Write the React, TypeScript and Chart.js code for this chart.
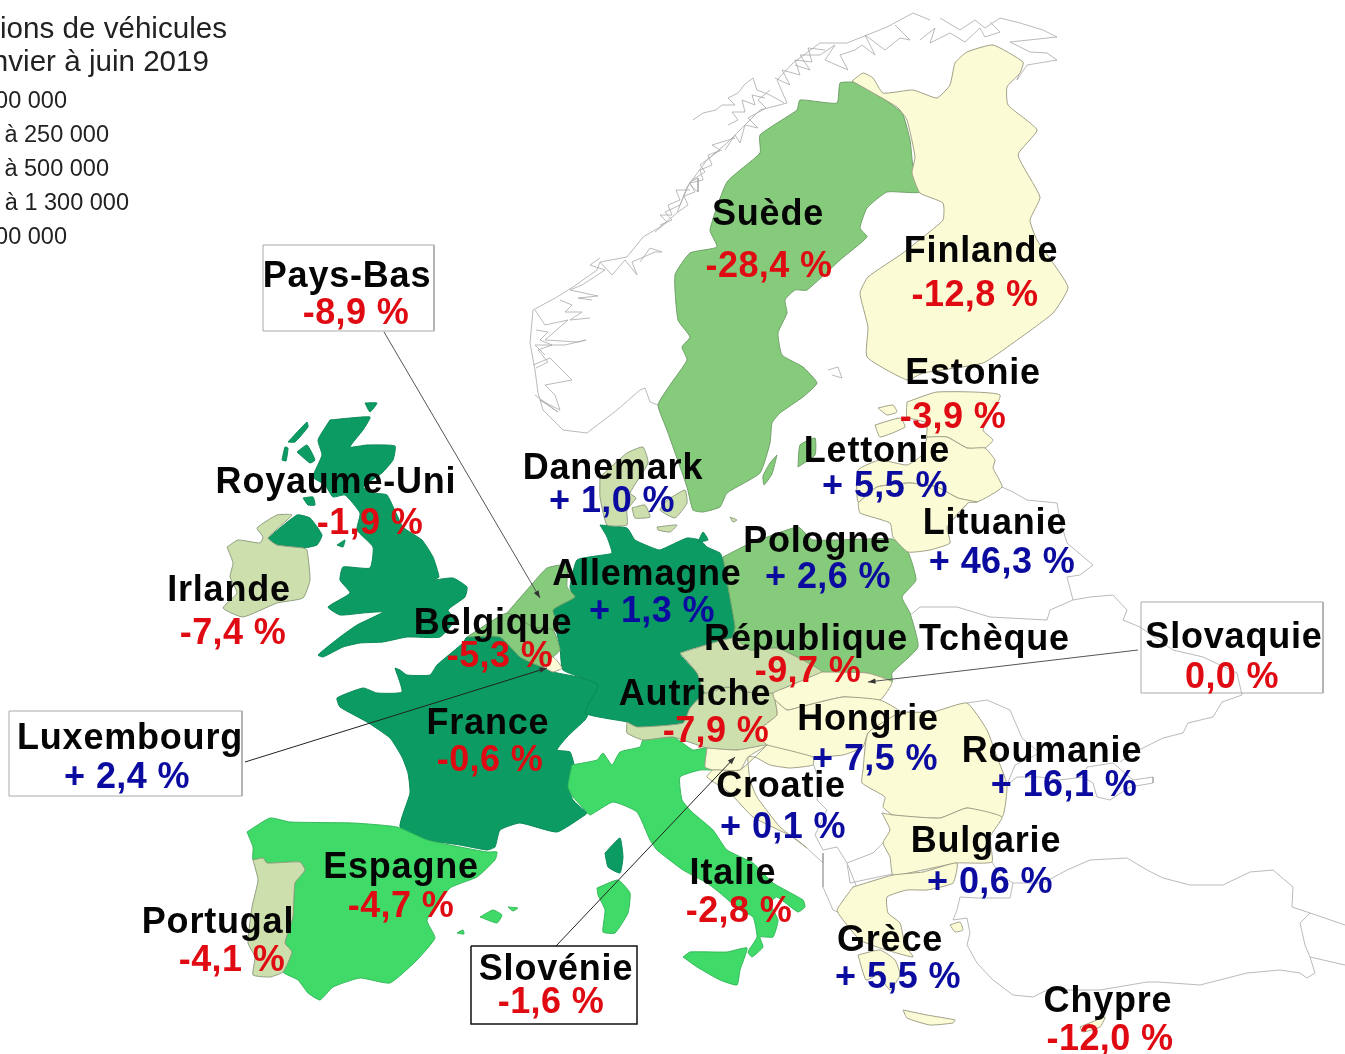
import React, { useEffect, useRef } from "react";
import { Chart, registerables } from "chart.js";
Chart.register(...registerables);

type P = number[];

// Category colours of the map
const DARK = "#0B9B63";
const BRIGHT = "#3FDA68";
const MID = "#86CB7C";
const PALE = "#CEDFAE";
const CREAM = "#FBFBD6";

// Labels
const names = ["Suède","Finlande","Estonie","Lettonie","Danemark","Lituanie","Pologne","Royaume-Uni","Irlande","Pays-Bas","Allemagne","Belgique","République Tchèque","Slovaquie","Autriche","Hongrie","France","Luxembourg","Roumanie","Croatie","Bulgarie","Espagne","Italie","Portugal","Grèce","Slovénie","Chypre"];
const changes = [-28.4,-12.8,-3.9,5.5,1.0,46.3,2.6,-1.9,-7.4,-8.9,1.3,-5.3,-9.7,0.0,-7.9,7.5,-0.6,2.4,16.1,0.1,0.6,-4.7,-2.8,-4.1,5.5,-1.6,-12.0];
const nameX = [768,981,973,877,613,995,817,336,229,347,647,493,887,1234,695,868,488,130,1052,781,986,401,733,218,890,556,1108];
const nameY = [225,262,384,462,479,534,552,493,601,287,585,634,650,648,705,730,734,749,762,797,852,878,884,933,951,980,1012];
const valueX = [769,975,953,885,612,1002,828,370,233,356,652,500,808,1232,716,875,490,127,1064,783,990,401,739,232,898,551,1110];
const valueY = [277,306,428,497,512,573,588,534,644,324,622,667,682,688,742,770,771,788,796,838,893,917,922,971,988,1013,1050];

const legendLines = ["ions de véhicules","nvier à juin 2019","00 000","à 250 000","à 500 000","à 1 300 000","00 000"];
const legendRight = [227,209,67,109,109,129,67];
const legendBase = [38,71,108,142,176,210,244];
const legendSize = [29.6,29.6,23.5,23.5,23.5,23.5,23.5];

// Country outlines, in map units
const greatBritain: P[] = [[330,420],[370,417],[363,430],[350,447],[367,445],[395,446],[393,460],[382,473],[363,487],[373,493],[387,495],[403,527],[422,540],[433,557],[439,577],[433,580],[453,578],[467,587],[465,597],[448,610],[455,620],[440,637],[407,637],[383,642],[360,643],[343,647],[323,657],[318,655],[340,637],[357,625],[383,612],[363,613],[340,615],[328,607],[350,593],[340,580],[343,567],[370,568],[373,547],[357,530],[360,513],[345,495],[333,497],[325,485],[313,477],[322,455],[318,440]];
const nIreland: P[] = [[268,538],[297,515],[310,518],[322,535],[317,545],[303,548],[277,545]];
const hebrides: P[] = [[288,442],[307,422],[308,427],[295,442]];
const skye: P[] = [[297,452],[307,445],[315,460],[310,463]];
const uist: P[] = [[282,460],[285,447],[288,448],[286,461]];
const orkney: P[] = [[365,403],[377,403],[370,412]];
const anglesey: P[] = [[337,545],[345,540],[343,547]];
const islay: P[] = [[303,498],[313,497],[315,505],[308,505]];
const ireland: P[] = [[227,547],[238,540],[260,543],[263,537],[257,528],[277,515],[292,515],[268,538],[277,545],[303,548],[307,550],[310,580],[303,598],[277,603],[243,617],[223,608],[237,593],[230,577],[233,563]];
const france: P[] = [[395,668],[400,670],[407,675],[430,675],[437,665],[463,643],[467,637],[500,637],[520,657],[543,667],[553,672],[598,683],[587,717],[585,720],[567,737],[557,750],[570,752],[575,770],[568,785],[573,800],[587,813],[585,815],[557,832],[520,823],[500,830],[495,847],[487,850],[460,845],[427,840],[400,827],[410,793],[408,773],[402,757],[390,738],[367,722],[340,707],[337,698],[363,688],[377,693],[402,692]];
const corsica: P[] = [[605,853],[620,838],[623,857],[620,873],[608,867]];
const spain: P[] = [[247,832],[270,818],[290,822],[353,823],[397,827],[427,840],[460,847],[487,852],[497,852],[495,860],[477,877],[450,888],[427,920],[435,938],[417,960],[390,983],[360,978],[333,987],[320,1000],[308,993],[298,980],[283,972],[292,952],[285,943],[293,917],[295,883],[305,870],[300,862],[267,863],[263,858],[253,860],[253,847]];
const portugal: P[] = [[253,860],[263,858],[267,863],[300,862],[305,870],[295,883],[293,917],[285,943],[292,952],[283,972],[270,977],[253,975],[255,957],[248,943],[252,907],[258,880]];
const mallorca: P[] = [[480,917],[493,910],[502,915],[497,923]];
const menorca: P[] = [[508,907],[518,908],[513,911]];
const ibiza: P[] = [[457,933],[463,930],[464,934]];
const italy: P[] = [[572,765],[597,760],[603,753],[612,765],[620,752],[640,747],[643,740],[673,737],[693,750],[707,748],[705,767],[713,770],[700,770],[680,777],[682,800],[692,812],[713,830],[727,850],[753,863],[773,883],[803,900],[805,907],[798,912],[777,897],[770,903],[778,920],[773,937],[760,937],[763,947],[752,957],[748,952],[757,937],[753,917],[740,910],[720,893],[707,883],[683,870],[657,850],[650,840],[637,812],[613,802],[590,815],[585,810],[573,797],[568,787]];
const sicily: P[] = [[683,957],[690,952],[727,952],[747,948],[740,970],[737,985],[720,980],[697,967]];
const sardinia: P[] = [[597,888],[618,880],[630,893],[628,913],[615,933],[603,932],[605,910],[598,895]];
const germany: P[] = [[600,525],[627,528],[635,540],[653,548],[660,550],[687,538],[700,540],[707,547],[720,553],[723,560],[728,587],[735,627],[733,637],[680,653],[697,673],[705,693],[690,708],[683,723],[637,727],[627,722],[585,713],[598,685],[563,670],[560,647],[553,610],[573,597],[570,587],[577,560],[603,555],[612,553],[607,537]];
const rugen: P[] = [[698,542],[703,532],[708,540]];
const jutland: P[] = [[600,477],[627,453],[643,447],[648,463],[630,493],[636,498],[627,510],[627,525],[607,525],[600,497]];
const funen: P[] = [[632,508],[645,505],[650,517],[635,518]];
const zealand: P[] = [[667,500],[685,490],[687,503],[675,518],[660,510]];
const lolland: P[] = [[657,527],[677,525],[670,532],[658,530]];
const bornholm: P[] = [[730,517],[737,520],[733,522]];
const sweden: P[] = [[853,82],[873,92],[902,113],[910,140],[913,167],[920,192],[887,192],[867,208],[860,228],[867,237],[840,260],[807,290],[795,290],[785,300],[787,313],[778,333],[782,355],[803,367],[817,383],[803,397],[780,413],[772,423],[770,443],[760,473],[727,493],[720,507],[703,512],[693,510],[687,487],[667,430],[658,405],[670,385],[687,360],[682,347],[690,337],[678,320],[675,275],[690,253],[717,247],[710,230],[727,182],[760,153],[760,135],[797,110],[800,100],[837,103],[840,83]];
const oland: P[] = [[777,455],[772,474],[764,485],[763,476],[770,463]];
const gotland: P[] = [[798,467],[800,445],[815,438],[815,455]];
const finland: P[] = [[852,81],[863,73],[873,78],[883,93],[913,90],[937,98],[950,85],[955,63],[967,52],[993,45],[1023,62],[1020,73],[1007,87],[1008,105],[1037,130],[1018,155],[1040,197],[1030,220],[1037,240],[1068,287],[1053,313],[1013,343],[983,363],[923,373],[907,380],[867,357],[868,327],[860,293],[868,277],[903,253],[923,237],[943,220],[943,203],[920,193],[912,173],[915,157],[907,120],[897,107]];
const estonia: P[] = [[907,402],[937,392],[1000,395],[983,430],[993,440],[985,448],[967,448],[947,437],[927,437],[927,423],[907,417]];
const saaremaa: P[] = [[875,425],[900,418],[905,427],[880,437]];
const hiiumaa: P[] = [[878,408],[893,405],[897,412],[887,415]];
const latvia: P[] = [[927,437],[947,437],[967,448],[985,448],[995,460],[993,468],[1002,487],[977,502],[958,498],[937,487],[910,483],[877,487],[858,502],[858,470],[880,460],[907,465],[922,455]];
const lithuania: P[] = [[858,503],[860,513],[890,523],[893,537],[908,552],[930,550],[950,543],[947,527],[968,503],[977,502],[958,498],[937,487],[910,483],[877,487]];
const poland: P[] = [[723,557],[747,545],[798,527],[813,540],[892,539],[908,552],[916,580],[902,597],[910,613],[918,647],[892,673],[892,682],[867,673],[822,672],[797,657],[777,648],[750,650],[733,638],[735,627],[728,587]];
const czechia: P[] = [[680,653],[733,638],[750,650],[777,648],[797,657],[822,672],[787,687],[773,693],[753,693],[727,687],[705,693],[697,673]];
const slovakia: P[] = [[822,672],[867,673],[892,682],[880,700],[843,697],[800,707],[787,710],[775,700],[773,693],[787,687]];
const hungary: P[] = [[775,700],[787,710],[800,707],[843,697],[880,700],[900,712],[868,733],[863,747],[843,755],[813,757],[793,755],[767,745],[757,732],[777,715]];
const romania: P[] = [[900,712],[933,712],[967,703],[987,730],[997,757],[1007,785],[1002,817],[967,808],[940,818],[893,815],[883,807],[885,797],[862,783],[863,770],[868,733]];
const bulgaria: P[] = [[882,813],[893,815],[940,818],[967,808],[1002,817],[990,837],[992,862],[957,863],[923,870],[893,875],[890,857],[883,843],[890,830]];
const greece: P[] = [[853,887],[893,875],[923,872],[957,863],[953,883],[927,890],[907,890],[887,897],[888,913],[900,923],[905,945],[913,957],[880,948],[860,940],[843,920],[837,910]];
const peloponnese: P[] = [[858,955],[880,950],[895,960],[900,975],[890,990],[878,975],[866,980]];
const crete: P[] = [[903,1010],[927,1015],[955,1020],[953,1023],[930,1025],[907,1018]];
const lesbos: P[] = [[950,925],[960,922],[963,930],[955,932]];
const cyprus: P[] = [[1080,1027],[1105,1017],[1100,1027],[1083,1032]];
const netherlands: P[] = [[507,613],[533,583],[547,568],[567,565],[567,587],[575,597],[553,610],[560,630],[553,630],[533,627]];
const belgium: P[] = [[467,637],[507,613],[533,627],[553,630],[560,650],[553,657],[543,667],[520,657],[500,637]];
const luxembourg: P[] = [[543,667],[553,657],[562,668],[553,672]];
const austria: P[] = [[627,722],[637,727],[683,723],[690,708],[705,693],[727,687],[753,693],[773,693],[775,700],[777,715],[757,732],[767,745],[737,750],[707,748],[673,737],[643,740],[627,733]];
const slovenia: P[] = [[707,748],[737,750],[767,745],[748,757],[740,770],[713,770],[705,767]];
const croatia: P[] = [[767,745],[813,757],[813,765],[790,768],[770,765],[755,757],[748,757],[750,780],[757,797],[780,827],[807,848],[793,837],[753,817],[730,793],[707,777],[713,770],[740,770]];

// Outlines of the neighbouring countries, drawn without fill
const norwayCoast: P[] = [[658,405],[650,402],[645,388],[640,390],[617,410],[587,433],[563,430],[543,410],[538,393],[535,370],[530,343],[533,310],[557,297],[573,287],[597,270],[600,262],[627,257],[643,237],[660,227],[677,213],[687,187],[707,160],[727,143],[743,127],[760,110],[787,103],[777,80],[793,63],[820,43],[847,43],[887,27],[913,13],[930,20]];
const norwayNorth: P[] = [[1023,62],[1017,80],[1027,65],[1057,60],[1047,53],[1030,52],[1010,42],[1057,37],[1043,30],[1020,23],[1000,18],[985,28],[975,20],[960,30],[940,18]];
const fjord1: P[] = [[693,120],[703,113],[716,110],[722,105],[735,105],[728,98],[738,93],[745,84],[753,78],[757,90],[770,95],[784,103]];
const fjord2: P[] = [[725,150],[735,135],[740,143],[745,125],[758,128],[748,118],[766,108],[758,100],[770,90]];
const fjord3: P[] = [[692,180],[705,172],[700,165],[720,150],[712,145],[735,138]];
const fjord4: P[] = [[660,225],[672,220],[665,212],[680,205],[690,182],[698,178],[698,192],[690,185]];
const fjord5: P[] = [[600,262],[612,275],[625,260],[637,275],[632,262],[655,252],[662,252],[650,248],[640,262]];
const fjord6: P[] = [[600,258],[590,265],[605,270],[582,285],[570,290],[598,296],[578,298],[592,300]];
const fjord7: P[] = [[535,310],[545,325],[568,320],[545,340],[578,342],[586,340],[565,345],[535,345],[545,355]];
const fjord8: P[] = [[533,365],[550,358],[572,380],[545,385],[555,395],[560,410],[540,400],[558,412],[535,395]];
const fjord9: P[] = [[795,65],[810,70],[800,55],[820,55],[835,45],[825,60],[848,70],[840,55],[855,50],[862,45],[875,55],[865,35],[885,50],[900,38],[910,40],[895,25]];
const fjord10: P[] = [[920,40],[935,28],[930,43],[950,33],[965,42],[980,28],[985,37],[1000,32],[990,22]];
const fjord11: P[] = [[678,212],[688,205],[684,196],[695,192],[690,183],[703,180],[700,170],[712,165],[708,155],[722,150]];
const fjord12: P[] = [[655,232],[667,222],[660,215],[672,215],[668,205],[680,200],[676,190],[690,190]];
const fjord13: P[] = [[775,78],[790,85],[782,70],[800,75],[795,60],[812,62],[808,48],[825,50]];
const fjord14: P[] = [[728,125],[738,120],[732,112],[745,112],[742,100],[755,105],[752,95],[765,98]];
const fjord15: P[] = [[560,300],[572,305],[565,312],[582,312],[570,320],[590,318]];
const fjord16: P[] = [[536,330],[548,332],[540,340],[552,345],[538,350],[548,362],[536,368]];
const aland: P[] = [[828,370],[838,367],[842,378],[832,375]];
const balticEast: P[] = [[1002,487],[1013,492],[1027,500],[1057,503],[1060,520],[1067,543],[1093,565],[1080,575],[1067,577],[1073,600],[1090,597],[1113,595],[1127,610],[1123,620],[1140,627],[1173,650],[1203,657],[1237,673],[1242,695],[1222,702],[1213,717],[1188,723],[1183,733],[1163,738],[1133,753],[1120,762]];
const belarusSouth: P[] = [[908,617],[920,607],[957,607],[990,617],[1047,620],[1050,610],[1073,600]];
const belarusWest: P[] = [[968,503],[947,527],[950,543]];
const moldova: P[] = [[967,703],[987,700],[1010,710],[1022,738],[1040,753],[1015,765],[1007,785]];
const blackSeaNorth: P[] = [[1007,785],[1017,777],[1040,777],[1060,780],[1083,777],[1087,767],[1113,763],[1133,780],[1153,777],[1153,783],[1130,787],[1110,800],[1097,797],[1093,783],[1083,777]];
const turkeyEurope: P[] = [[992,862],[1000,875],[1013,883],[1010,898],[977,898],[960,897],[957,910],[953,920],[967,918],[970,933],[967,945],[977,963],[993,980],[1013,995],[1033,997],[1047,990],[1100,990],[1147,982],[1158,982],[1200,985],[1247,973],[1280,970],[1300,973],[1307,978],[1315,973],[1310,957],[1345,965]];
const turkeyNorth: P[] = [[1013,883],[1043,883],[1067,870],[1090,860],[1127,858],[1147,870],[1163,878],[1190,885],[1223,885],[1250,872],[1273,870],[1293,887],[1292,907],[1310,913],[1345,925]];
const turkeyEast: P[] = [[1310,913],[1300,923],[1305,945],[1310,957]];
const serbia: P[] = [[813,763],[820,783],[817,800],[827,810],[815,835],[823,850],[837,847],[847,863],[873,853],[883,843]];
const kosovo: P[] = [[847,863],[850,883],[897,873]];
const albania: P[] = [[823,853],[823,887],[833,910],[840,913],[857,888],[848,865]];
const bosnia: P[] = [[807,848],[823,863],[823,853]];

type Shape = { pts: P[]; fill?: string; line?: string };
const shapes: Shape[] = [
  ...[norwayCoast,norwayNorth,fjord1,fjord2,fjord3,fjord4,fjord5,fjord6,fjord7,fjord8,fjord9,fjord10,fjord11,fjord12,fjord13,fjord14,fjord15,fjord16,aland,balticEast,belarusSouth,belarusWest,moldova,blackSeaNorth,turkeyEurope,turkeyNorth,turkeyEast,serbia,kosovo,albania,bosnia].map((pts) => ({ pts, line: "#a8a8a8" })),
  ...[greatBritain,nIreland,hebrides,skye,uist,orkney,anglesey,islay,france,corsica,germany,rugen].map((pts) => ({ pts, fill: DARK, line: "#0a8a58" })),
  ...[spain,mallorca,menorca,ibiza,italy,sicily,sardinia].map((pts) => ({ pts, fill: BRIGHT, line: "#35b95a" })),
  ...[sweden,oland,gotland,poland,netherlands,belgium].map((pts) => ({ pts, fill: MID, line: "#6f9f68" })),
  ...[ireland,portugal,jutland,funen,zealand,lolland,bornholm,austria,czechia].map((pts) => ({ pts, fill: PALE, line: "#8f9f80" })),
  ...[finland,estonia,saaremaa,hiiumaa,latvia,lithuania,slovakia,hungary,romania,bulgaria,greece,peloponnese,crete,lesbos,cyprus,luxembourg,slovenia,croatia].map((pts) => ({ pts, fill: CREAM, line: "#a0a088" })),
];

// Callouts
const boxPaysBas: P[] = [[263,245],[434,245],[434,331],[263,331],[263,245]];
const boxLuxembourg: P[] = [[9,711],[242,711],[242,796],[9,796],[9,711]];
const boxSlovaquie: P[] = [[1141,602],[1323,602],[1323,693],[1141,693],[1141,602]];
const boxSlovenie: P[] = [[471,946],[637,946],[637,1024],[471,1024],[471,946]];
const leaders: P[][] = [
  [[384,332],[540,598]],
  [[245,762],[547,668]],
  [[1138,650],[868,682]],
  [[556,946],[735,757]],
];

const fontFamily = '"Liberation Sans", Arial, sans-serif';

function fmt(v: number) {
  const s = Math.abs(v).toFixed(1).replace(".", ",");
  if (v < 0) return `-${s} %`;
  if (v === 0) return `${s} %`;
  return `+ ${s} %`;
}

export default function App() {
  const ref = useRef<HTMLCanvasElement>(null);
  useEffect(() => {
    document.body.style.margin = "0";
    const toData = (pts: P[]) => pts.map(([x, y]) => ({ x, y }));
    const base = { showLine: true, pointRadius: 0, pointHoverRadius: 0 };
    const all: any[] = [];
    shapes.forEach((s) => {
      const closed = s.fill ? [...s.pts, s.pts[0]] : s.pts;
      all.push({ ...base, tension: s.fill ? 0.15 : 0, data: toData(closed), backgroundColor: s.fill ?? "transparent", borderColor: s.line, borderWidth: s.fill ? 1 : 0.8, fill: s.fill ? "shape" : false });
    });
    leaders.forEach((pts, i) => {
      all.push({ ...base, tension: 0, data: toData(pts), borderColor: i === 1 || i === 3 ? "#222" : "#555", borderWidth: 1, fill: false });
    });
    [boxPaysBas, boxLuxembourg, boxSlovaquie].forEach((pts) => {
      all.push({ ...base, tension: 0, data: toData(pts), borderColor: "#aaaaaa", borderWidth: 1, fill: false });
    });
    all.push({ ...base, tension: 0, data: toData(boxSlovenie), borderColor: "#111", borderWidth: 1.5, fill: false });
    all.forEach((d, i) => { d.order = all.length - i; });

    const labels = {
      id: "labels",
      afterDatasetsDraw(chart: any) {
        const { ctx, scales } = chart;
        const X = (v: number) => scales.x.getPixelForValue(v);
        const Y = (v: number) => scales.y.getPixelForValue(v);
        ctx.save();
        leaders.forEach((l) => {
          const [a, b] = l;
          const ang = Math.atan2(Y(b[1]) - Y(a[1]), X(b[0]) - X(a[0]));
          ctx.fillStyle = "#333";
          ctx.beginPath();
          ctx.moveTo(X(b[0]), Y(b[1]));
          ctx.lineTo(X(b[0]) - 8 * Math.cos(ang - 0.35), Y(b[1]) - 8 * Math.sin(ang - 0.35));
          ctx.lineTo(X(b[0]) - 8 * Math.cos(ang + 0.35), Y(b[1]) - 8 * Math.sin(ang + 0.35));
          ctx.closePath();
          ctx.fill();
        });
        ctx.textBaseline = "alphabetic";
        ctx.textAlign = "right";
        ctx.fillStyle = "#222";
        legendLines.forEach((t, i) => {
          ctx.font = `${legendSize[i]}px ${fontFamily}`;
          ctx.fillText(t, X(legendRight[i]), Y(legendBase[i]));
        });
        ctx.textAlign = "center";
        ctx.font = `bold 36px ${fontFamily}`;
        ctx.fillStyle = "#050505";
        ctx.letterSpacing = "0.8px";
        names.forEach((n, i) => ctx.fillText(n, X(nameX[i]), Y(nameY[i])));
        ctx.letterSpacing = "0.4px";
        changes.forEach((v, i) => {
          ctx.fillStyle = v > 0 ? "#0B0BA0" : "#E00A12";
          ctx.fillText(fmt(v), X(valueX[i]), Y(valueY[i]));
        });
        ctx.restore();
      },
    };

    const chart = new Chart(ref.current!, {
      type: "scatter",
      data: { datasets: all },
      plugins: [labels],
      options: {
        animation: false,
        responsive: false,
        events: [],
        layout: { padding: 0 },
        plugins: { legend: { display: false }, tooltip: { enabled: false }, title: { display: false } },
        scales: {
          x: { type: "linear", min: 0, max: 1345, display: false },
          y: { type: "linear", min: 0, max: 1054, reverse: true, display: false },
        },
      },
    } as any);
    return () => chart.destroy();
  }, []);
  return <canvas ref={ref} width={1345} height={1054} style={{ display: "block" }} />;
}
